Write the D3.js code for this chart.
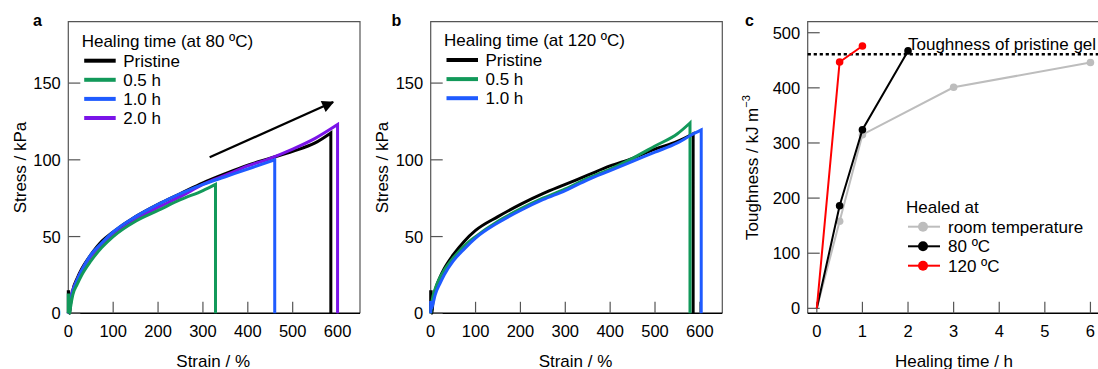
<!DOCTYPE html>
<html>
<head>
<meta charset="utf-8">
<script src="https://cdn.jsdelivr.net/npm/d3@7"></script>
<style>
  body { margin: 0; background: #fff; }
  svg { display: block; font-family: 'Liberation Sans', Arial, sans-serif; }
</style>
</head>
<body>
<div id="fig"></div>
<script>
// ---- data ----
// panel a: healed at 80 ºC, [strain %, stress kPa]
const aPristine = [[0,0],[0,14],[1,14],[3,0],[5,6],[10,15],[20,23],[30,29],[50,38],[75,47],[100,53],[150,63],[200,71],[250,78],[300,85],[350,91],[400,96.5],[450,101],[500,105.5],[550,111],[585,117.5],[585,0]];
const aHalf     = [[0,0],[0,12],[1,12],[3,0],[5,4],[10,12],[20,19],[30,25],[50,34],[75,43],[100,50],[150,60],[200,67],[250,74],[300,80],[328,84],[328,0]];
const aOne      = [[0,0],[1,2],[3,5],[10,14],[20,22],[30,28],[50,38],[75,46],[100,53],[150,63],[200,71],[250,78],[300,84],[350,89],[400,94],[460,100],[460,0]];
const aTwo      = [[0,0],[1,3],[2,6],[5,10],[10,15],[20,22],[30,28],[50,37],[75,45],[100,51],[150,61],[200,69],[250,76],[300,84],[350,90],[400,96],[450,101],[500,107],[550,114],[600,123],[600,0]];
const aLabels   = ['Pristine', '0.5 h', '1.0 h', '2.0 h'];

// panel b: healed at 120 ºC
const bPristine = [[0,0],[0,14],[1,14],[3,0],[5,8],[10,15],[20,23],[30,29],[50,38],[75,47],[100,54],[150,63],[200,71],[250,78],[300,84],[350,90],[400,96],[450,101],[500,107],[550,112],[585,117],[585,0]];
const bHalf     = [[0,0],[1,3],[2,6],[5,11],[10,16],[20,23],[30,28],[50,36],[75,44],[100,50],[150,60],[200,68],[250,75],[300,81],[350,88],[400,94],[450,101],[500,109],[550,117],[578,124],[578,0]];
const bOne      = [[0,0],[0,8],[2,3],[5,6],[10,12],[20,19],[30,25],[50,34],[75,42],[100,49],[150,59],[200,67],[250,74],[300,80],[350,87],[400,93],[450,99],[500,105],[550,111],[580,116],[603,119.5],[603,0]];
const bLabels   = ['Pristine', '0.5 h', '1.0 h'];

// panel c: toughness vs healing time
const timeRT  = [0, 0.5, 1, 3, 6],  toughRT  = [0, 158, 315, 401, 446];
const time80  = [0, 0.5, 1, 2],     tough80  = [0, 186, 324, 467];
const time120 = [0, 0.5, 1],        tough120 = [0, 447, 476];
const pristineTough = 461;
const cLabels = ['room temperature', '80 ºC', '120 ºC'];

const strainTicks = [0, 100, 200, 300, 400, 500, 600];
const stressTicks = [0, 50, 100, 150];
const timeTicks = [0, 1, 2, 3, 4, 5, 6];
const toughTicks = [0, 100, 200, 300, 400, 500];

// ---- drawing ----
const W = 1098, H = 369, FS = 17, TFS = 16.5;
const FRAME = '#555';
const svg = d3.select('#fig').append('svg').attr('width', W).attr('height', H);
svg.append('defs').append('marker').attr('id', 'ah').attr('viewBox', '0 0 10 10')
  .attr('refX', 9).attr('refY', 5).attr('markerWidth', 15).attr('markerHeight', 12)
  .attr('markerUnits', 'userSpaceOnUse').attr('orient', 'auto')
  .append('path').attr('d', 'M0,0 L10,5 L0,10 Z').attr('fill', '#000');

const yTop = 21.7, yBot = 313.3;

function frame(g, x0, x1) {
  g.append('path').attr('d', `M${x0},${yBot} V${yTop} H${x1} V${yBot}`)
    .attr('fill', 'none').attr('stroke', FRAME).attr('stroke-width', 1.2);
  g.append('line').attr('x1', x0).attr('x2', x1).attr('y1', yBot).attr('y2', yBot)
    .attr('stroke', '#000').attr('stroke-width', 1.6);
}

function axes(g, x, y, xt, yt, x0) {
  g.selectAll('.xt').data(xt).join('line').attr('x1', d => x(d)).attr('x2', d => x(d))
    .attr('y1', yBot).attr('y2', yBot - 11.5).attr('stroke', FRAME).attr('stroke-width', 1.2);
  g.selectAll('.xl').data(xt).join('text').attr('x', d => x(d)).attr('y', 336.5)
    .attr('text-anchor', 'middle').attr('font-size', TFS).text(d => d);
  g.selectAll('.yt').data(yt).join('line').attr('x1', x0).attr('x2', x0 + 12)
    .attr('y1', d => y(d)).attr('y2', d => y(d)).attr('stroke', FRAME).attr('stroke-width', 1.2);
  g.selectAll('.yl').data(yt).join('text').attr('x', x0 - 7.5).attr('y', d => y(d) + 6)
    .attr('text-anchor', 'end').attr('font-size', TFS).text(d => d);
}

function letter(x, t) {
  svg.append('text').attr('x', x).attr('y', 26).attr('font-size', 16).attr('font-weight', 'bold').text(t);
}

// a curve = initial spike (linear) + smooth body + vertical break (linear)
function drawCurve(g, x, y, pts, color) {
  let s = 1;
  while (s < pts.length && pts[s][0] < 3) s++;
  const body = pts.slice(s - 1, pts.length - 1);
  const lin = d3.line().x(d => x(d[0])).y(d => y(d[1]));
  const smooth = d3.line().x(d => x(d[0])).y(d => y(d[1])).curve(d3.curveMonotoneX);
  const d = lin(pts.slice(0, s)) + smooth(body).replace(/^M[^LC]*/, '') + 'L' + x(pts[pts.length - 1][0]) + ',' + y(pts[pts.length - 1][1]);
  g.append('path').attr('d', d).attr('fill', 'none').attr('stroke', color)
    .attr('stroke-width', 3).attr('stroke-linejoin', 'miter');
}

function stressPanel(x0, x1, series, colors, labels, title, lg, ylabX) {
  const g = svg.append('g');
  const x = d3.scaleLinear().domain([0, 650]).range([x0, x1]);
  const y = d3.scaleLinear().domain([0, 190]).range([yBot, yTop]);
  frame(g, x0, x1);
  axes(g, x, y, strainTicks, stressTicks, x0);
  series.forEach(s => drawCurve(g, x, y, s.pts, colors[s.i]));
  // legend
  g.append('text').attr('x', lg.x).attr('y', lg.y).attr('font-size', FS).text(title);
  labels.forEach((l, i) => {
    const yy = lg.y + 14 + i * 19.1;
    g.append('line').attr('x1', lg.x + 2.5).attr('x2', lg.x + 34).attr('y1', yy).attr('y2', yy)
      .attr('stroke', colors[i]).attr('stroke-width', 4);
    g.append('text').attr('x', lg.x + 41.5).attr('y', yy + 6).attr('font-size', FS).text(l);
  });
  g.append('text').attr('x', (x0 + x1) / 2 - 1).attr('y', 367).attr('text-anchor', 'middle')
    .attr('font-size', FS).text('Strain / %');
  g.append('text').attr('transform', `translate(${ylabX},${(yTop + yBot) / 2}) rotate(-90)`)
    .attr('text-anchor', 'middle').attr('font-size', FS).text('Stress / kPa');
  return { g, x, y };
}

// panel a
const colA = ['#000000', '#12995a', '#1f5bff', '#7a14e8'];
const pa = stressPanel(68.3, 360, [
  { i: 0, pts: aPristine }, { i: 3, pts: aTwo }, { i: 2, pts: aOne }, { i: 1, pts: aHalf }
], colA, aLabels, 'Healing time (at 80 ºC)', { x: 81.7, y: 46.7 }, 25.5);
pa.g.append('line').attr('x1', pa.x(315)).attr('y1', pa.y(101.7)).attr('x2', pa.x(590)).attr('y2', pa.y(137.6))
  .attr('stroke', '#000').attr('stroke-width', 2.2).attr('marker-end', 'url(#ah)');
letter(33, 'a');

// panel b
const colB = ['#000000', '#12995a', '#1f5bff'];
stressPanel(430.7, 722.3, [
  { i: 0, pts: bPristine }, { i: 1, pts: bHalf }, { i: 2, pts: bOne }
], colB, bLabels, 'Healing time (at 120 ºC)', { x: 444, y: 46 }, 388);
letter(391.5, 'b');

// panel c
(function () {
  const x0 = 807.7, x1 = 1117.8;
  const g = svg.append('g');
  const x = d3.scaleLinear().domain([-0.2, 6.6]).range([x0, x1]);
  const y = d3.scaleLinear().domain([-9, 520]).range([yBot, yTop]);
  frame(g, x0, x1);
  axes(g, x, y, timeTicks, toughTicks, x0);
  g.append('line').attr('x1', x0).attr('x2', W).attr('y1', y(pristineTough)).attr('y2', y(pristineTough))
    .attr('stroke', '#000').attr('stroke-width', 2.6).attr('stroke-dasharray', '3.2,2.8');
  g.append('text').attr('x', 908).attr('y', 49.5).attr('font-size', FS).text('Toughness of pristine gel');
  const cols = ['#bdbdbd', '#000000', '#ff0000'];
  const sets = [[timeRT, toughRT], [time80, tough80], [time120, tough120]];
  const line = d3.line().x(d => x(d[0])).y(d => y(d[1]));
  sets.forEach(([t, v], i) => {
    const pts = t.map((d, j) => [d, v[j]]);
    g.append('path').attr('d', line(pts)).attr('fill', 'none').attr('stroke', cols[i]).attr('stroke-width', 2);
    g.selectAll(null).data(pts.filter(d => d[0] > 0)).join('circle')
      .attr('cx', d => x(d[0])).attr('cy', d => y(d[1])).attr('r', 3.8).attr('fill', cols[i]);
  });
  // legend
  g.append('text').attr('x', 906).attr('y', 213).attr('font-size', FS).text('Healed at');
  const lys = [226.7, 246.3, 265.7];
  cLabels.forEach((l, i) => {
    g.append('line').attr('x1', 908).attr('x2', 940).attr('y1', lys[i]).attr('y2', lys[i])
      .attr('stroke', cols[i]).attr('stroke-width', 2);
    g.append('circle').attr('cx', 923).attr('cy', lys[i]).attr('r', 5).attr('fill', cols[i]);
    g.append('text').attr('x', 948).attr('y', lys[i] + 6).attr('font-size', FS).text(l);
  });
  g.append('text').attr('x', 954).attr('y', 367).attr('text-anchor', 'middle').attr('font-size', FS)
    .text('Healing time / h');
  const yl = g.append('text').attr('transform', 'translate(757.7,240) rotate(-90)').attr('font-size', FS);
  yl.append('tspan').text('Toughness / kJ m');
  yl.append('tspan').attr('dy', -8).attr('font-size', 11).text('−3');
  letter(745, 'c');
})();
</script>
</body>
</html>
